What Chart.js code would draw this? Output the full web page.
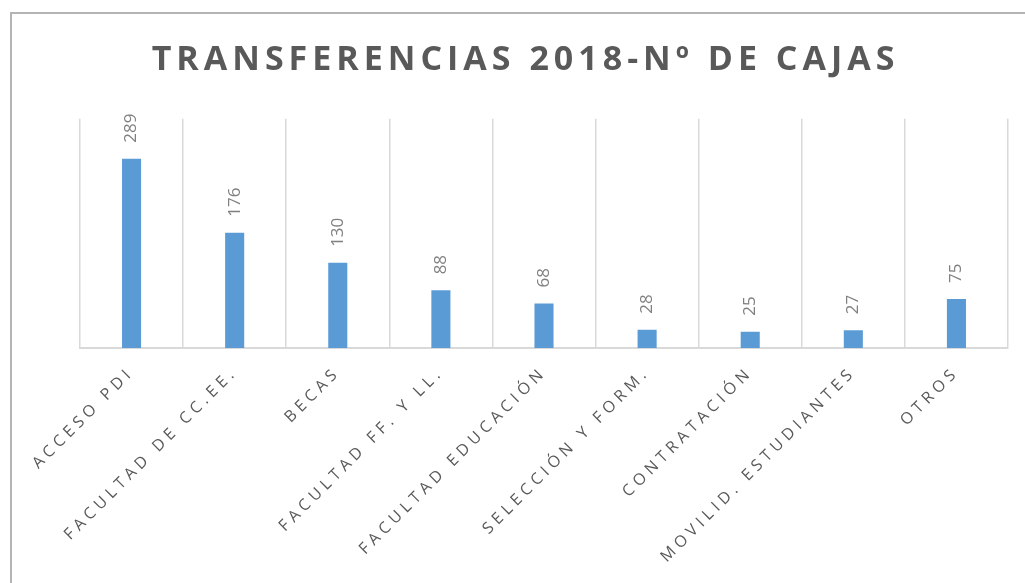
<!DOCTYPE html>
<html>
<head>
<meta charset="utf-8">
<script src="https://cdn.jsdelivr.net/npm/chart.js@4"></script>
<style>
  body { margin: 0; background: #fff; }
  #frame {
    position: absolute; left: 10px; top: 12px;
    width: 1015px; height: 571px;
    border-top: 2px solid #b4b4b4; border-left: 2px solid #b4b4b4;
    box-sizing: border-box;
  }
  #cajas-graph { display: block; }
</style>
</head>
<body>
<div id="frame"><canvas id="cajas-graph" width="1013" height="569"></canvas></div>
<script>
const cajasGraph = document.querySelector("#cajas-graph");

const categories = [
  "ACCESO PDI",
  "FACULTAD DE CC.EE.",
  "BECAS",
  "FACULTAD FF. Y LL.",
  "FACULTAD EDUCACIÓN",
  "SELECCIÓN Y FORM.",
  "CONTRATACIÓN",
  "MOVILID. ESTUDIANTES",
  "OTROS",
];
const cajas = [289, 176, 130, 88, 68, 28, 25, 27, 75];

// letter spacing for title + tick labels (Excel style)
const spacingPlugin = {
  id: "spacing",
  beforeUpdate(chart) { chart.ctx.letterSpacing = "5px"; },
  beforeDraw(chart) { chart.ctx.letterSpacing = "5px"; },
};

// rotated value labels above bars
const valueLabels = {
  id: "valueLabels",
  afterDatasetsDraw(chart) {
    const ctx = chart.ctx;
    const meta = chart.getDatasetMeta(0);
    ctx.save();
    ctx.letterSpacing = "0px";
    ctx.font = "17px 'Open Sans', sans-serif";
    ctx.fillStyle = "#808080";
    ctx.textAlign = "left";
    ctx.textBaseline = "middle";
    meta.data.forEach((bar, i) => {
      ctx.save();
      ctx.translate(bar.x, bar.y - 16);
      ctx.rotate(-Math.PI / 2);
      ctx.fillText(String(cajas[i]), 0, 0);
      ctx.restore();
    });
    ctx.restore();
    // tick labels are drawn after this (ticks z: 1), a bit less spaced
    ctx.letterSpacing = "4.6px";
  },
};

new Chart(cajasGraph, {
  type: "bar",
  data: {
    labels: categories,
    datasets: [{
      data: cajas,
      backgroundColor: "#5B9BD5",
      borderWidth: 0,
      categoryPercentage: 1,
      barPercentage: 0.185,
    }],
  },
  options: {
    responsive: false,
    animation: false,
    events: [],
    layout: { padding: { left: 31, right: 17, top: 0, bottom: 0 } },
    plugins: {
      legend: { display: false },
      tooltip: { enabled: false },
      title: {
        display: true,
        text: "TRANSFERENCIAS 2018-Nº DE CAJAS",
        color: "#595959",
        font: { family: "'Open Sans', sans-serif", size: 34, weight: "bold" },
        padding: { top: 26, bottom: 38 },
      },
    },
    scales: {
      x: {
        grid: { color: "#d9d9d9", lineWidth: 1.5, offset: true, drawTicks: false },
        border: { color: "#d9d9d9", width: 2 },
        ticks: {
          z: 1,
          color: "#595959",
          font: { family: "'Open Sans', sans-serif", size: 16 },
          minRotation: 45,
          maxRotation: 45,
          autoSkip: false,
          padding: 15,
        },
        afterFit: (scale) => { scale.height = 235; },
      },
      y: {
        min: 0,
        max: 350,
        ticks: { display: false },
        grid: { display: false },
        border: { display: false },
        afterFit: (scale) => { scale.width = 37; },
      },
    },
  },
  plugins: [spacingPlugin, valueLabels],
});
</script>
</body>
</html>
